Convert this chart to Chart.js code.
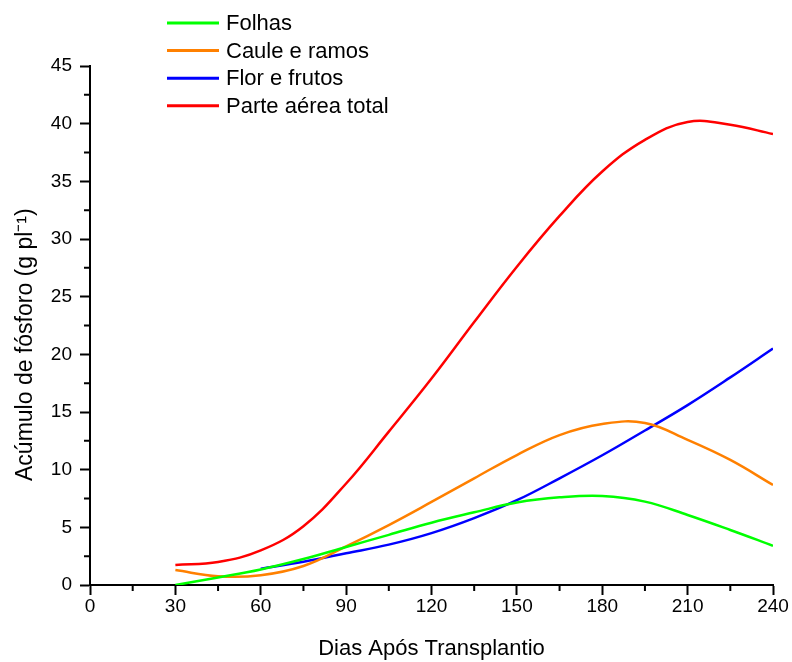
<!DOCTYPE html>
<html>
<head>
<meta charset="utf-8">
<title>Acúmulo de fósforo</title>
<script src="https://cdn.jsdelivr.net/npm/chart.js@4.4.0/dist/chart.umd.min.js"></script>
<style>
  body { margin: 0; background: #fff; }
  #chart { display: block; }
</style>
</head>
<body>
<canvas id="chart" width="792" height="662"></canvas>
<script>
// Dias após transplantio e valores
const days = [30, 45, 60, 75, 90, 105, 120, 135, 150, 165, 180, 195, 210, 225, 240];
const folhas = [0.0, 0.65, 1.35, 2.25, 3.3, 4.35, 5.4, 6.3, 7.15, 7.6, 7.72, 7.23, 6.07, 4.77, 3.4];
const caule = [1.3, 0.76, 0.85, 1.65, 3.35, 5.2, 7.2, 9.25, 11.27, 13.0, 13.96, 14.05, 12.58, 10.84, 8.67];
const flor = [null, null, 1.42, 2.02, 2.75, 3.5, 4.5, 5.8, 7.35, 9.25, 11.25, 13.4, 15.6, 18.0, 20.5];
const total = [1.73, 2.0, 3.0, 5.1, 8.8, 13.3, 17.9, 22.8, 27.6, 32.0, 35.85, 38.6, 40.15, 39.9, 39.1];

const xTicks = [0, 30, 60, 90, 120, 150, 180, 210, 240];
const yTicks = [0, 5, 10, 15, 20, 25, 30, 35, 40, 45];

const FONT = "'Liberation Sans', Arial, sans-serif";

const toPoints = (values) =>
  values
    .map((v, i) => ({ x: days[i], y: v }))
    .filter((p) => p.y !== null);

const makeSet = (label, values, color) => ({
  label,
  data: toPoints(values),
  borderColor: color,
  borderWidth: 2.5,
  pointRadius: 0,
  tension: 0.4,
  fill: false,
});

// Legenda desenhada no topo, sobre a área do gráfico
const topLegend = {
  id: "topLegend",
  afterDraw(chart) {
    const ctx = chart.ctx;
    ctx.save();
    ctx.font = `22px ${FONT}`;
    ctx.textBaseline = "middle";
    ctx.fillStyle = "#000";
    chart.data.datasets.forEach((ds, i) => {
      const y = 23 + i * 27.6;
      ctx.strokeStyle = ds.borderColor;
      ctx.lineWidth = 3;
      ctx.beginPath();
      ctx.moveTo(167, y);
      ctx.lineTo(219, y);
      ctx.stroke();
      ctx.fillText(ds.label, 226, y + 1);
    });
    ctx.restore();
  },
};

// Marcas menores nos eixos
const minorTicks = {
  id: "minorTicks",
  afterDraw(chart) {
    const { ctx, scales, chartArea } = chart;
    ctx.save();
    ctx.strokeStyle = "#000";
    ctx.lineWidth = 2;
    ctx.beginPath();
    for (let i = 0; i < xTicks.length - 1; i++) {
      const px = scales.x.getPixelForValue((xTicks[i] + xTicks[i + 1]) / 2);
      ctx.moveTo(px, chartArea.bottom);
      ctx.lineTo(px, chartArea.bottom + 6);
    }
    for (let i = 0; i < yTicks.length - 1; i++) {
      const py = scales.y.getPixelForValue((yTicks[i] + yTicks[i + 1]) / 2);
      ctx.moveTo(chartArea.left, py);
      ctx.lineTo(chartArea.left - 6, py);
    }
    ctx.stroke();
    ctx.restore();
  },
};

const axisGrid = {
  drawOnChartArea: false,
  tickLength: 10,
  tickColor: "#000",
  tickWidth: 2,
};

new Chart(document.getElementById("chart"), {
  type: "line",
  data: {
    datasets: [
      makeSet("Folhas", folhas, "#00ff00"),
      makeSet("Caule e ramos", caule, "#ff8000"),
      makeSet("Flor e frutos", flor, "#0000ff"),
      makeSet("Parte aérea total", total, "#ff0000"),
    ],
  },
  options: {
    responsive: false,
    animation: false,
    layout: { padding: { top: 66, right: 19, left: 0, bottom: 0 } },
    plugins: {
      legend: { display: false },
      tooltip: { enabled: false },
    },
    scales: {
      x: {
        type: "linear",
        min: 0,
        max: 240,
        afterBuildTicks: (scale) => {
          scale.ticks = xTicks.map((v) => ({ value: v }));
        },
        afterFit: (scale) => {
          scale.height = 77;
        },
        ticks: {
          color: "#000",
          font: { family: FONT, size: 19 },
          padding: 0,
          maxRotation: 0,
        },
        grid: axisGrid,
        border: { color: "#000", width: 2 },
        title: {
          display: true,
          text: "Dias Após Transplantio",
          color: "#000",
          font: { family: FONT, size: 22 },
          padding: { top: 0, bottom: 0 },
        },
      },
      y: {
        min: 0,
        max: 45,
        afterBuildTicks: (scale) => {
          scale.ticks = yTicks.map((v) => ({ value: v }));
        },
        afterFit: (scale) => {
          scale.width = 90;
        },
        ticks: {
          color: "#000",
          font: { family: FONT, size: 19 },
          padding: 8,
        },
        grid: axisGrid,
        border: { color: "#000", width: 2 },
        title: {
          display: true,
          text: "Acúmulo de fósforo (g pl⁻¹)" + " ".repeat(6),
          color: "#000",
          font: { family: FONT, size: 23 },
          padding: { top: 12, bottom: 0 },
        },
      },
    },
  },
  plugins: [topLegend, minorTicks],
});
</script>
</body>
</html>
